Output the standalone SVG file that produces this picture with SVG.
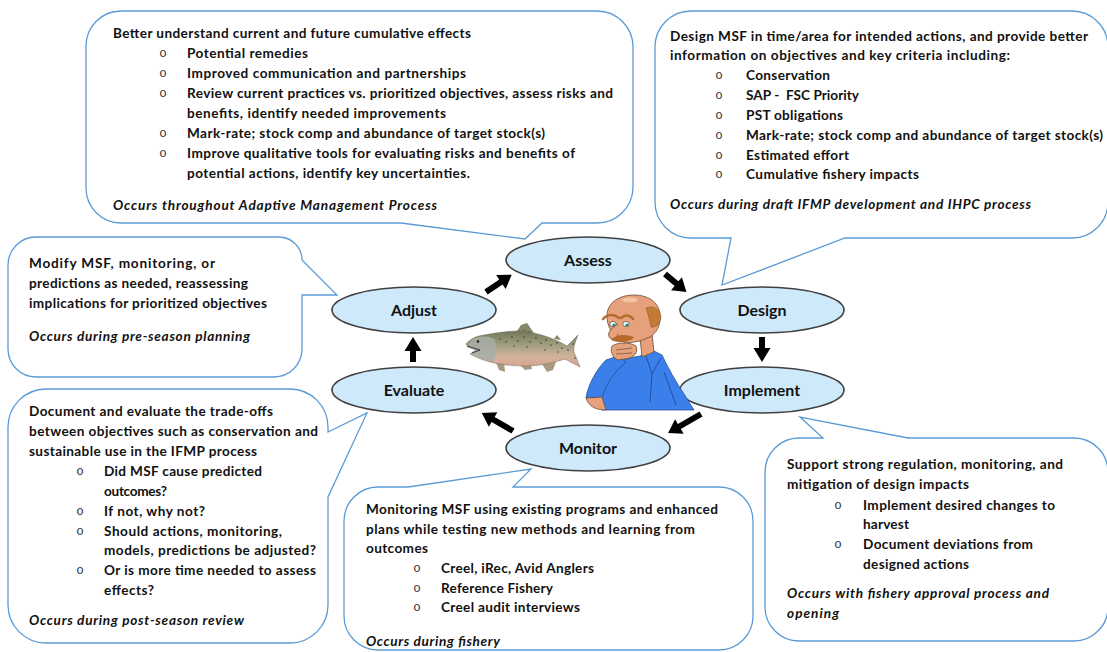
<svg xmlns="http://www.w3.org/2000/svg" width="1107" height="652" viewBox="0 0 1107 652">
  <style>
    .call { fill: #ffffff; stroke: #5b9bd5; stroke-width: 1.3; }
    .node ellipse { fill: #cde9fa; stroke: #404040; stroke-width: 1.6; }
    .lbl { font-family: "Lato", "Liberation Sans", sans-serif; font-weight: 700; font-size: 16px; fill: #111; text-anchor: middle; }
    .t { font-family: "Lato", "Liberation Sans", sans-serif; font-weight: 700; font-size: 13.6px; fill: #111; }
    .i { font-style: italic; }
    .b { font-family: "Liberation Mono", monospace; font-weight: 400; font-size: 12.5px; fill: #333; text-anchor: middle; }
    .arr { fill: #000; }
    .ol { stroke: #6b4a35; stroke-width: 0.8; }
  </style>
  <defs>
    <linearGradient id="fishBody" x1="0" y1="330" x2="0" y2="367" gradientUnits="userSpaceOnUse">
      <stop offset="0" stop-color="#6f7658"/>
      <stop offset="0.45" stop-color="#a7a185"/>
      <stop offset="0.7" stop-color="#d2b39c"/>
      <stop offset="1" stop-color="#d9a592"/>
    </linearGradient>
  </defs>

  <!-- Assess callout -->
  <g id="note-assess">
    <path class="call" d="M121,11 H597 A36,36 0 0 1 633,47 V187 A36,36 0 0 1 597,223 H542 L525,239 L401,223 H121 A35,35 0 0 1 86,188 V46 A35,35 0 0 1 121,11 Z"/>
    <text class="t" x="113" y="38" textLength="358">Better understand current and future cumulative effects</text>
    <text class="b" x="163" y="57">o</text>
    <text class="t" x="187" y="58" textLength="121">Potential remedies</text>
    <text class="b" x="163" y="77">o</text>
    <text class="t" x="187" y="78" textLength="279">Improved communication and partnerships</text>
    <text class="b" x="163" y="97">o</text>
    <text class="t" x="187" y="98" textLength="426">Review current practices vs. prioritized objectives, assess risks and</text>
    <text class="t" x="187" y="118" textLength="259">benefits, identify needed improvements</text>
    <text class="b" x="163" y="137">o</text>
    <text class="t" x="187" y="138" textLength="358">Mark-rate; stock comp and abundance of target stock(s)</text>
    <text class="b" x="163" y="157">o</text>
    <text class="t" x="187" y="158" textLength="388">Improve qualitative tools for evaluating risks and benefits of</text>
    <text class="t" x="187" y="178" textLength="283">potential actions, identify key uncertainties.</text>
    <text class="t i" x="113" y="210" textLength="324">Occurs throughout Adaptive Management Process</text>
  </g>

  <!-- Design callout -->
  <g id="note-design">
    <path class="call" d="M691,11 H1072 A36,36 0 0 1 1108,47 V202 A36,36 0 0 1 1072,238 H845 L722,285 L731,238 H691 A36,36 0 0 1 655,202 V47 A36,36 0 0 1 691,11 Z"/>
    <text class="t" x="670" y="41" textLength="418">Design MSF in time/area for intended actions, and provide better</text>
    <text class="t" x="670" y="60" textLength="340">information on objectives and key criteria including:</text>
    <text class="b" x="719" y="79">o</text>
    <text class="t" x="746" y="80" textLength="84">Conservation</text>
    <text class="b" x="719" y="99">o</text>
    <text class="t" x="746" y="100" textLength="113">SAP -&#160; FSC Priority</text>
    <text class="b" x="719" y="119">o</text>
    <text class="t" x="746" y="120" textLength="97">PST obligations</text>
    <text class="b" x="719" y="139">o</text>
    <text class="t" x="746" y="140" textLength="357">Mark-rate; stock comp and abundance of target stock(s)</text>
    <text class="b" x="719" y="159">o</text>
    <text class="t" x="746" y="160" textLength="103">Estimated effort</text>
    <text class="b" x="719" y="178">o</text>
    <text class="t" x="746" y="179" textLength="173">Cumulative fishery impacts</text>
    <text class="t i" x="670" y="209" textLength="361">Occurs during draft IFMP development and IHPC process</text>
  </g>

  <!-- Adjust callout -->
  <g id="note-adjust">
    <path class="call" d="M36,237 H279 A23,23 0 0 1 302,260 L337,295 L302,295 V349 A28,28 0 0 1 274,377 H36 A28,28 0 0 1 8,349 V265 A28,28 0 0 1 36,237 Z"/>
    <text class="t" x="29" y="268" textLength="186">Modify MSF, monitoring, or</text>
    <text class="t" x="29" y="288" textLength="219">predictions as needed, reassessing</text>
    <text class="t" x="29" y="308" textLength="238">implications for prioritized objectives</text>
    <text class="t i" x="29" y="341" textLength="221">Occurs during pre-season planning</text>
  </g>

  <!-- Evaluate callout -->
  <g id="note-evaluate">
    <path class="call" d="M46,389 H290 A38,38 0 0 1 328,427 V432 L367,413 L328,497 V605 A38,38 0 0 1 290,643 H46 A38,38 0 0 1 8,605 V427 A38,38 0 0 1 46,389 Z"/>
    <text class="t" x="29" y="416" textLength="244">Document and evaluate the trade-offs</text>
    <text class="t" x="29" y="436" textLength="289">between objectives such as conservation and</text>
    <text class="t" x="29" y="456" textLength="228">sustainable use in the IFMP process</text>
    <text class="b" x="80" y="475">o</text>
    <text class="t" x="104" y="476" textLength="158">Did MSF cause predicted</text>
    <text class="t" x="104" y="496" textLength="63">outcomes?</text>
    <text class="b" x="80" y="515">o</text>
    <text class="t" x="104" y="516" textLength="101">If not, why not?</text>
    <text class="b" x="80" y="535">o</text>
    <text class="t" x="104" y="536" textLength="178">Should actions, monitoring,</text>
    <text class="t" x="104" y="555" textLength="212">models, predictions be adjusted?</text>
    <text class="b" x="80" y="574">o</text>
    <text class="t" x="104" y="575" textLength="212">Or is more time needed to assess</text>
    <text class="t" x="104" y="595" textLength="50">effects?</text>
    <text class="t i" x="29" y="625" textLength="215">Occurs during post-season review</text>
  </g>

  <!-- Monitor callout -->
  <g id="note-monitor">
    <path class="call" d="M378,487 H408 L531,469 L513,487 H719 A34,34 0 0 1 753,521 V616 A34,34 0 0 1 719,650 H378 A34,34 0 0 1 344,616 V521 A34,34 0 0 1 378,487 Z"/>
    <text class="t" x="366" y="514" textLength="352">Monitoring MSF using existing programs and enhanced</text>
    <text class="t" x="366" y="534" textLength="329">plans while testing new methods and learning from</text>
    <text class="t" x="366" y="553" textLength="62">outcomes</text>
    <text class="b" x="417" y="572">o</text>
    <text class="t" x="441" y="573" textLength="153">Creel, iRec, Avid Anglers</text>
    <text class="b" x="417" y="592">o</text>
    <text class="t" x="441" y="593" textLength="112">Reference Fishery</text>
    <text class="b" x="417" y="611">o</text>
    <text class="t" x="441" y="612" textLength="139">Creel audit interviews</text>
    <text class="t i" x="366" y="646" textLength="134">Occurs during fishery</text>
  </g>

  <!-- Implement callout -->
  <g id="note-implement">
    <path class="call" d="M799,438 H823 L800,417 L908,438 H1074 A34,34 0 0 1 1108,472 V607 A34,34 0 0 1 1074,641 H799 A34,34 0 0 1 765,607 V472 A34,34 0 0 1 799,438 Z"/>
    <text class="t" x="787" y="469" textLength="276">Support strong regulation, monitoring, and</text>
    <text class="t" x="787" y="489" textLength="182">mitigation of design impacts</text>
    <text class="b" x="838" y="509">o</text>
    <text class="t" x="863" y="510" textLength="192">Implement desired changes to</text>
    <text class="t" x="863" y="529" textLength="46">harvest</text>
    <text class="b" x="838" y="548">o</text>
    <text class="t" x="863" y="549" textLength="170">Document deviations from</text>
    <text class="t" x="863" y="569" textLength="106">designed actions</text>
    <text class="t i" x="787" y="598" textLength="262">Occurs with fishery approval process and</text>
    <text class="t i" x="787" y="618" textLength="52">opening</text>
  </g>

  <!-- Cycle stages -->
  <g id="assess" class="node">
    <ellipse cx="588" cy="260" rx="82" ry="23"/>
    <text class="lbl" x="588" y="265.5">Assess</text>
  </g>
  <g id="design" class="node">
    <ellipse cx="762" cy="310" rx="82" ry="23"/>
    <text class="lbl" x="762" y="315.5">Design</text>
  </g>
  <g id="implement" class="node">
    <ellipse cx="762" cy="390" rx="82" ry="23"/>
    <text class="lbl" x="762" y="395.5">Implement</text>
  </g>
  <g id="monitor" class="node">
    <ellipse cx="588" cy="448" rx="82" ry="23"/>
    <text class="lbl" x="588" y="453.5">Monitor</text>
  </g>
  <g id="evaluate" class="node">
    <ellipse cx="414" cy="390" rx="82" ry="23"/>
    <text class="lbl" x="414" y="395.5">Evaluate</text>
  </g>
  <g id="adjust" class="node">
    <ellipse cx="414" cy="310" rx="82" ry="23"/>
    <text class="lbl" x="414" y="315.5">Adjust</text>
  </g>

  <!-- Block arrows between stages -->
  <g id="connectors">
    <path class="arr" transform="translate(486,292) rotate(-34)" d="M0,-3 H18 V-8.5 L31,0 L18,8.5 V3 H0 Z"/>
    <path class="arr" transform="translate(665,274) rotate(40)" d="M0,-3 H15 V-8.5 L28,0 L15,8.5 V3 H0 Z"/>
    <path class="arr" transform="translate(762,337) rotate(90)" d="M0,-3 H11 V-8.5 L25,0 L11,8.5 V3 H0 Z"/>
    <path class="arr" transform="translate(701,414) rotate(150)" d="M0,-3 H25 V-8.5 L38,0 L25,8.5 V3 H0 Z"/>
    <path class="arr" transform="translate(513,431) rotate(-150)" d="M0,-3 H23 V-8.5 L36,0 L23,8.5 V3 H0 Z"/>
    <path class="arr" transform="translate(413,362) rotate(-90)" d="M0,-3 H11 V-8.5 L25,0 L11,8.5 V3 H0 Z"/>
  </g>

  <!-- Salmon -->
  <g id="salmon">
    <path d="M515,334 L521,325 L527,323 L536,336 Z" fill="#8a8668"/>
    <path d="M554,339 L557,335 L561,340 Z" fill="#8a8668"/>
    <path d="M495,360 L499,370 L505,372 L504,361 Z" fill="#a69a80"/>
    <path d="M520,365 L525,370 L532,369 L531,365 Z" fill="#a69a80"/>
    <path d="M542,364 L547,372 L553,370 L556,362 Z" fill="#a69a80"/>
    <path d="M466,344 C470,339 476,336 484,335 C496,333 508,331 518,331 C535,332 552,337 567,346 L578,335 C575,343 573,348 574,352 C576,357 578,362 580,367 L565,359 C552,363 540,366 525,366 C510,366 498,364 490,362 C482,360 476,357 470,354 L476,350 L468,347 Z" fill="url(#fishBody)" stroke="#6a6a55" stroke-width="0.5"/>
    <path d="M471,340 C478,336 488,335 494,339 C498,346 497,355 493,362 C484,360 476,357 471,354 L476,350 L468,347 Z" fill="#a8aea8" opacity="0.85"/>
    <path d="M467,346 L480,350 L472,353" fill="none" stroke="#3a3a35" stroke-width="1"/>
    <circle cx="478" cy="341.5" r="1.3" fill="#222"/>
    <g fill="#3b3b2e">
      <circle cx="500" cy="339" r="0.8"/><circle cx="506" cy="342" r="0.8"/><circle cx="512" cy="337" r="0.8"/>
      <circle cx="518" cy="341" r="0.8"/><circle cx="524" cy="337" r="0.8"/><circle cx="530" cy="342" r="0.8"/>
      <circle cx="536" cy="338" r="0.8"/><circle cx="541" cy="343" r="0.8"/><circle cx="546" cy="340" r="0.8"/>
      <circle cx="551" cy="345" r="0.8"/><circle cx="557" cy="343" r="0.8"/><circle cx="562" cy="348" r="0.8"/>
      <circle cx="568" cy="350" r="0.8"/><circle cx="573" cy="344" r="0.8"/><circle cx="575" cy="358" r="0.8"/>
      <circle cx="514" cy="346" r="0.7"/><circle cx="527" cy="347" r="0.7"/><circle cx="545" cy="350" r="0.7"/>
      <circle cx="558" cy="352" r="0.7"/><circle cx="524" cy="330" r="0.6"/><circle cx="529" cy="332" r="0.6"/>
    </g>
  </g>

  <!-- Thinking man -->
  <g id="man">
    <path d="M603,372 C612,362 628,358 640,356 L652,350 L662,355 C668,368 676,382 684,394 L694,410 L602,410 Z" fill="#3b7fea" stroke="#24509c" stroke-width="0.8"/>
    <path d="M646,356 L652,374 L661,358 M652,374 L650,402 M664,372 L676,405" fill="none" stroke="#1f4a9a" stroke-width="0.9"/>
    <path d="M586,398 C588,385 596,370 606,360 L618,356 L626,362 C614,372 606,384 602,398 Z" fill="#3b7fea" stroke="#24509c" stroke-width="0.8"/>
    <path d="M586,398 C588,405 594,410 606,410 L602,397 Z" fill="#e6a17c" class="ol"/>
    <path d="M640,338 L652,334 L654,352 L642,357 Z" fill="#e6a17c" class="ol"/>
    <path d="M607,316 C607,302 620,295 634,295 C650,295 661,304 660,318 C660,327 656,333 650,337 L640,341 L628,343 C617,342 607,330 607,316 Z" fill="#e6a17c" class="ol"/>
    <ellipse cx="630" cy="300" rx="8" ry="2.5" fill="#f3c3a3"/>
    <path d="M646,308 C652,305 660,308 661,317 C660,325 655,328 651,327 C650,321 648,314 646,308 Z" fill="#c47a35" stroke="#8a5224" stroke-width="0.5"/>
    <path d="M603,319 C607,314 614,314 619,318 M621,318 C625,314 630,315 633,319" fill="none" stroke="#b56a2c" stroke-width="2.5" stroke-linecap="round"/>
    <ellipse cx="613" cy="324" rx="3.2" ry="2.6" fill="#fff" stroke="#333" stroke-width="0.6"/>
    <ellipse cx="626" cy="324" rx="3.2" ry="2.6" fill="#fff" stroke="#333" stroke-width="0.6"/>
    <circle cx="614" cy="325" r="1.6" fill="#1f8a78"/>
    <circle cx="627" cy="325" r="1.6" fill="#1f8a78"/>
    <path d="M618,324 C611,328 606,334 610,338 C613,340 617,338 618,334" fill="#e6a17c" class="ol"/>
    <path d="M611,340 C616,334 626,334 634,337 C630,342 620,344 611,340 Z" fill="#b56a2c"/>
    <path d="M612,346 C618,342 630,342 636,346 C638,350 636,356 630,358 L618,360 C612,358 610,350 612,346 Z" fill="#e6a17c" class="ol"/>
    <path d="M616,350 L632,348 M616,354 L632,353" fill="none" stroke="#6b4a35" stroke-width="0.7"/>
  </g>
</svg>
